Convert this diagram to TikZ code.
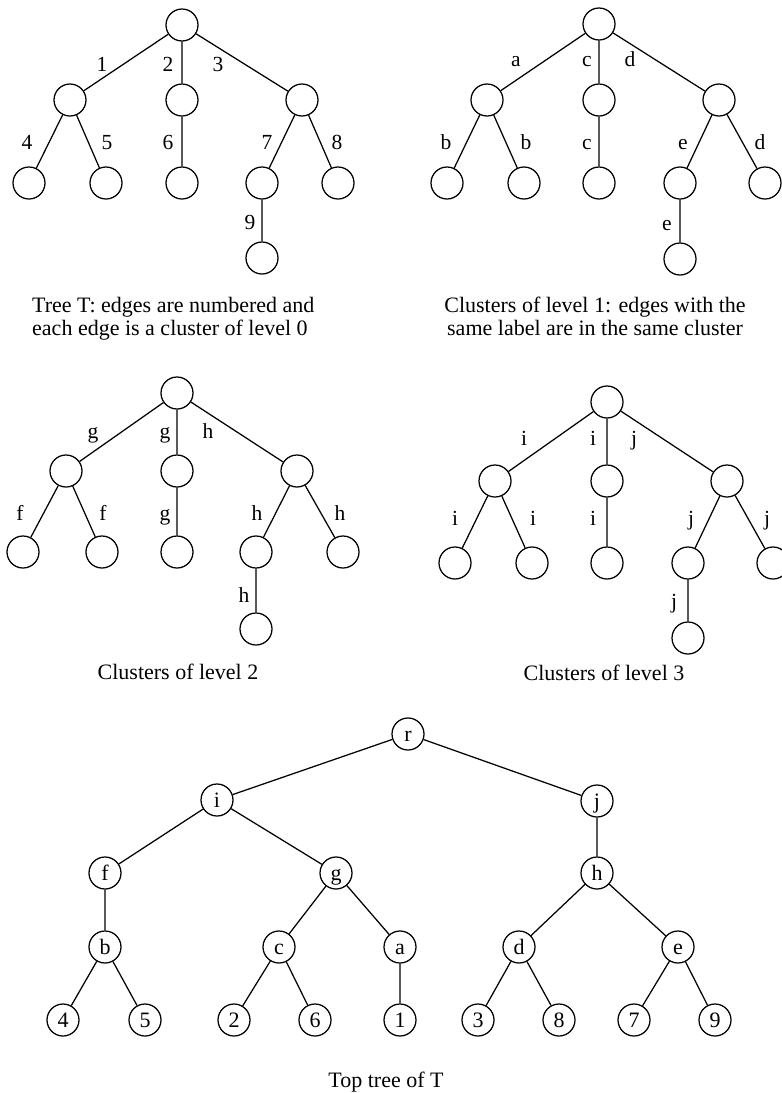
\documentclass[tikz,border=0pt]{standalone}
\usepackage{fontspec}
\setmainfont{Liberation Serif}
\begin{document}
\begin{tikzpicture}[x=1bp,y=-1bp,
  vtx/.style={circle,draw,line width=1.25bp,minimum size=32bp,inner sep=0pt,
    font=\fontsize{22bp}{24bp}\selectfont,text height=14bp,text depth=0bp},
  lbl/.style={anchor=base,inner sep=0pt,font=\fontsize{21.5bp}{24bp}\selectfont},
  captxt/.style={anchor=base,inner sep=0pt,font=\fontsize{22bp}{24bp}\selectfont},
  edg/.style={line width=1.25bp}]
\useasboundingbox (0,0) rectangle (782,1093);
% ---------- Tree 1 ----------
\node[vtx] (t1r) at (182,25) {};
\node[vtx] (t1a) at (70,100) {};
\node[vtx] (t1b) at (182,100) {};
\node[vtx] (t1c) at (302,100) {};
\node[vtx] (t1d) at (29,183) {};
\node[vtx] (t1e) at (106,183) {};
\node[vtx] (t1f) at (182,183) {};
\node[vtx] (t1g) at (262,183) {};
\node[vtx] (t1h) at (338,183) {};
\node[vtx] (t1i) at (262,258) {};
\draw[edg] (t1r)--(t1a) (t1r)--(t1b) (t1r)--(t1c) (t1a)--(t1d) (t1a)--(t1e)
  (t1b)--(t1f) (t1c)--(t1g) (t1c)--(t1h) (t1g)--(t1i);
\node[lbl] (l11) at (102,71) {1};
\node[lbl] (l12) at (168,71) {2};
\node[lbl] (l13) at (218,71) {3};
\node[lbl] (l14) at (27,149) {4};
\node[lbl] (l15) at (107,149) {5};
\node[lbl] (l16) at (168,149) {6};
\node[lbl] (l17) at (267,149) {7};
\node[lbl] (l18) at (337,149) {8};
\node[lbl] (l19) at (250,229) {9};
\node[captxt,anchor=base west] (c1a) at (32,312) {Tree T: edges are numbered and};
\node[captxt,anchor=base west] (c1b) at (32,335) {each edge is a cluster of level 0};
% ---------- Tree 2 ----------
\node[vtx] (t2r) at (599,24) {};
\node[vtx] (t2a) at (487,100) {};
\node[vtx] (t2b) at (599,100) {};
\node[vtx] (t2c) at (719,100) {};
\node[vtx] (t2d) at (447,183) {};
\node[vtx] (t2e) at (524,183) {};
\node[vtx] (t2f) at (599,183) {};
\node[vtx] (t2g) at (680,183) {};
\node[vtx] (t2h) at (765,183) {};
\node[vtx] (t2i) at (680,259) {};
\draw[edg] (t2r)--(t2a) (t2r)--(t2b) (t2r)--(t2c) (t2a)--(t2d) (t2a)--(t2e)
  (t2b)--(t2f) (t2c)--(t2g) (t2c)--(t2h) (t2g)--(t2i);
\node[lbl] (l21) at (516,66) {a};
\node[lbl] (l22) at (587,66) {c};
\node[lbl] (l23) at (630,66) {d};
\node[lbl] (l24) at (446,149) {b};
\node[lbl] (l25) at (526,149) {b};
\node[lbl] (l26) at (587,149) {c};
\node[lbl] (l27) at (683,149) {e};
\node[lbl] (l28) at (760,149) {d};
\node[lbl] (l29) at (667,230) {e};
\node[captxt] (c2a) at (595,312) {Clusters of level 1: edges with the};
\node[captxt] (c2b) at (595,335) {same label are in the same cluster};
% ---------- Tree 3 ----------
\node[vtx] (t3r) at (177,393) {};
\node[vtx] (t3a) at (66,471) {};
\node[vtx] (t3b) at (177,471) {};
\node[vtx] (t3c) at (297,471) {};
\node[vtx] (t3d) at (23,552) {};
\node[vtx] (t3e) at (102,552) {};
\node[vtx] (t3f) at (177,552) {};
\node[vtx] (t3g) at (256,552) {};
\node[vtx] (t3h) at (343,552) {};
\node[vtx] (t3i) at (256,629) {};
\draw[edg] (t3r)--(t3a) (t3r)--(t3b) (t3r)--(t3c) (t3a)--(t3d) (t3a)--(t3e)
  (t3b)--(t3f) (t3c)--(t3g) (t3c)--(t3h) (t3g)--(t3i);
\node[lbl] (l31) at (93,438) {g};
\node[lbl] (l32) at (165,438) {g};
\node[lbl] (l33) at (208,438) {h};
\node[lbl] (l34) at (20,520) {f};
\node[lbl] (l35) at (103,520) {f};
\node[lbl] (l36) at (165,520) {g};
\node[lbl] (l37) at (257,520) {h};
\node[lbl] (l38) at (340,520) {h};
\node[lbl] (l39) at (244,602) {h};
\node[captxt] (c3) at (178,679) {Clusters of level 2};
% ---------- Tree 4 ----------
\node[vtx] (t4r) at (607,402) {};
\node[vtx] (t4a) at (495,481) {};
\node[vtx] (t4b) at (607,481) {};
\node[vtx] (t4c) at (727,481) {};
\node[vtx] (t4d) at (455,563) {};
\node[vtx] (t4e) at (532,563) {};
\node[vtx] (t4f) at (607,563) {};
\node[vtx] (t4g) at (688,563) {};
\node[vtx] (t4h) at (773,563) {};
\node[vtx] (t4i) at (688,638) {};
\draw[edg] (t4r)--(t4a) (t4r)--(t4b) (t4r)--(t4c) (t4a)--(t4d) (t4a)--(t4e)
  (t4b)--(t4f) (t4c)--(t4g) (t4c)--(t4h) (t4g)--(t4i);
\node[lbl] (l41) at (524,445) {i};
\node[lbl] (l42) at (593,445) {i};
\node[lbl] (l43) at (634,445) {j};
\node[lbl] (l44) at (455,525) {i};
\node[lbl] (l45) at (533,525) {i};
\node[lbl] (l46) at (593,525) {i};
\node[lbl] (l47) at (691,525) {j};
\node[lbl] (l48) at (767,525) {j};
\node[lbl] (l49) at (674,608) {j};
\node[captxt] (c4) at (604,680) {Clusters of level 3};
% ---------- Top tree ----------
\node[vtx] (r) at (408,734) {r};
\node[vtx] (i) at (217,800) {i};
\node[vtx] (j) at (597,801) {j};
\node[vtx] (f) at (105,873) {f};
\node[vtx] (g) at (336,873) {g};
\node[vtx] (h) at (597,873) {h};
\node[vtx] (b) at (105,947) {b};
\node[vtx] (c) at (279,947) {c};
\node[vtx] (a) at (400,947) {a};
\node[vtx] (d) at (519,947) {d};
\node[vtx] (e) at (678,947) {e};
\node[vtx] (n4) at (63,1020) {4};
\node[vtx] (n5) at (145,1020) {5};
\node[vtx] (n2) at (234,1020) {2};
\node[vtx] (n6) at (315,1020) {6};
\node[vtx] (n1) at (400,1020) {1};
\node[vtx] (n3) at (478,1020) {3};
\node[vtx] (n8) at (559,1020) {8};
\node[vtx] (n7) at (634,1020) {7};
\node[vtx] (n9) at (715,1020) {9};
\draw[edg] (r)--(i) (r)--(j) (i)--(f) (i)--(g) (j)--(h) (f)--(b) (g)--(c) (g)--(a)
  (h)--(d) (h)--(e) (b)--(n4) (b)--(n5) (c)--(n2) (c)--(n6) (a)--(n1)
  (d)--(n3) (d)--(n8) (e)--(n7) (e)--(n9);
\node[captxt] (c5) at (386,1087) {Top tree of T};
\end{tikzpicture}
\end{document}
